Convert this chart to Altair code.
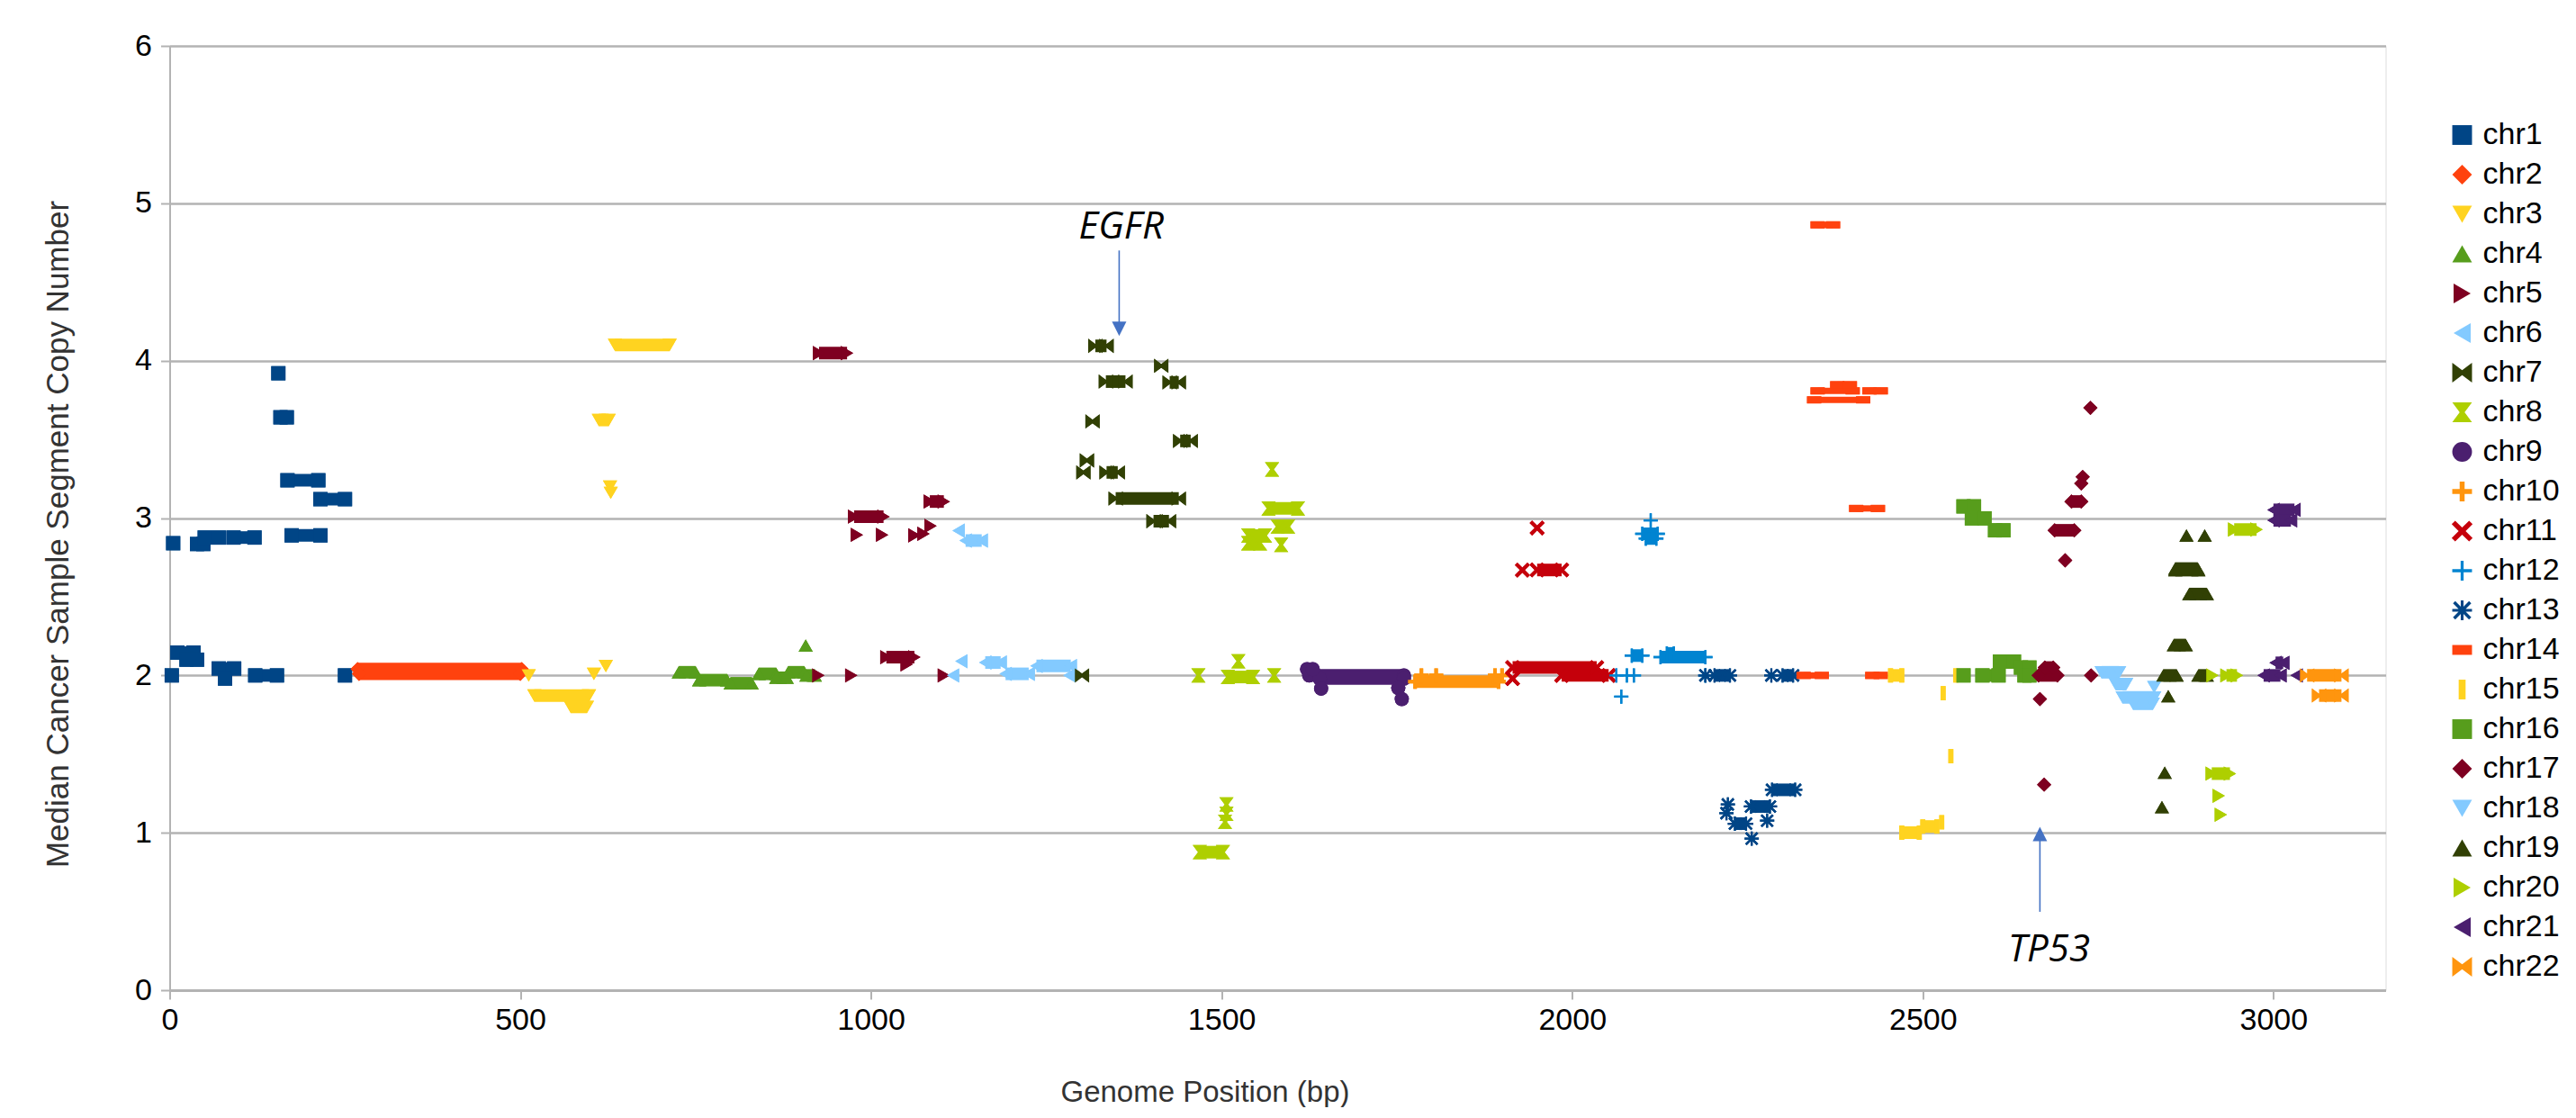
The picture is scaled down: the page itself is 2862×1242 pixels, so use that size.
import math
import altair as alt
import pandas as pd

CHROMS = [f"chr{i}" for i in range(1, 23)]
COLORS = ["#004586", "#ff420e", "#ffd320", "#579d1c", "#7e0021", "#83caff",
          "#314004", "#aecf00", "#4b1f6f", "#ff950e", "#c5000b", "#0084d1",
          "#004586", "#ff420e", "#ffd320", "#579d1c", "#7e0021", "#83caff",
          "#314004", "#aecf00", "#4b1f6f", "#ff950e"]

# segments: (first position, last position, median copy number)
CHR1 = [(5, 5, 2.84), (39, 48, 2.835), (50, 70, 2.876), (91, 121, 2.876), (155, 155, 3.92),
        (158, 167, 3.64), (168, 212, 3.24), (215, 250, 3.12), (174, 215, 2.89),
        (3, 3, 2.0), (11, 34, 2.145), (24, 39, 2.10), (70, 92, 2.044), (79, 79, 1.98),
        (122, 153, 2.0), (250, 250, 2.0)]
CHR2 = [(268, 502, 2.04), (270, 500, 2.01)]
CHR3 = [(512, 512, 2.0), (520, 598, 1.872), (572, 595, 1.80), (605, 605, 2.01), (622, 622, 2.06),
        (635, 713, 4.10), (612, 626, 3.623), (628, 628, 3.20), (629, 629, 3.16)]
CHR4 = [(726, 750, 2.02), (755, 795, 1.97), (800, 830, 1.95), (840, 865, 2.01), (865, 880, 1.985),
        (882, 905, 2.02), (908, 920, 2.0), (907, 907, 2.19)]
CHR5 = [(925, 925, 2.0), (972, 972, 2.0), (1022, 1062, 2.116), (1051, 1051, 2.07), (1104, 1104, 2.0),
        (926, 966, 4.048), (976, 1018, 3.009), (980, 980, 2.893), (1016, 1016, 2.893),
        (1062, 1062, 2.89), (1075, 1075, 2.9), (1085, 1085, 2.95), (1084, 1104, 3.105)]
CHR6 = [(1125, 1125, 2.92), (1135, 1158, 2.857), (1117, 1117, 2.0), (1129, 1129, 2.09),
        (1163, 1185, 2.082), (1192, 1225, 2.01), (1236, 1285, 2.06), (1283, 1283, 2.0)]
CHR7 = [(1301, 1301, 2.0), (1320, 1336, 4.094), (1335, 1363, 3.867), (1414, 1414, 3.967),
        (1426, 1439, 3.862), (1316, 1316, 3.614), (1441, 1456, 3.49), (1308, 1308, 3.366),
        (1303, 1303, 3.29), (1336, 1352, 3.29), (1349, 1439, 3.124), (1403, 1425, 2.98)]
CHR8 = [(1572, 1572, 3.309), (1567, 1609, 3.061), (1580, 1595, 2.946), (1538, 1562, 2.889),
        (1538, 1555, 2.84), (1585, 1585, 2.83), (1467, 1467, 2.0), (1509, 1545, 1.99),
        (1524, 1524, 2.09), (1575, 1575, 2.0), (1507, 1507, 1.18), (1507, 1507, 1.12),
        (1505, 1505, 1.07), (1469, 1502, 0.877)]
CHR9 = [(1625, 1760, 2.0), (1640, 1760, 1.98), (1622, 1630, 2.04), (1642, 1642, 1.916),
        (1752, 1752, 1.92), (1757, 1757, 1.85)]
CHR10 = [(1776, 1895, 1.96), (1785, 1785, 2.0), (1806, 1806, 2.0), (1890, 1890, 2.0), (1900, 1900, 2.0)]
CHR11 = [(1915, 2035, 2.05), (1985, 2052, 2.0), (1915, 1915, 1.98), (1929, 1929, 2.669),
         (1950, 1985, 2.67), (1950, 1950, 2.937)]
CHR12 = [(2063, 2063, 2.0), (2078, 2078, 2.0), (2088, 2088, 2.0), (2070, 2070, 1.865),
         (2085, 2100, 2.126), (2126, 2190, 2.116), (2135, 2145, 2.14), (2190, 2190, 2.0),
         (2112, 2112, 2.985), (2100, 2122, 2.9), (2105, 2120, 2.87)]
CHR13 = [(2190, 2190, 2.0), (2203, 2225, 2.0), (2284, 2284, 2.0), (2300, 2315, 2.0),
         (2285, 2318, 1.273), (2255, 2282, 1.167), (2222, 2222, 1.18), (2220, 2220, 1.125),
         (2232, 2248, 1.058), (2278, 2278, 1.077), (2256, 2256, 0.963)]
CHR14 = [(2330, 2356, 2.0), (2428, 2440, 2.0), (2350, 2372, 4.863), (2345, 2415, 3.751),
         (2350, 2400, 3.808), (2378, 2396, 3.847), (2424, 2440, 3.808), (2405, 2436, 3.061)]
CHR15 = [(2454, 2470, 2.0), (2470, 2495, 1.001), (2500, 2520, 1.04), (2527, 2527, 1.067),
         (2540, 2540, 1.487), (2529, 2529, 1.887), (2547, 2547, 2.0)]
CHR16 = [(2558, 2558, 2.0), (2585, 2608, 2.0), (2610, 2630, 2.088), (2640, 2652, 2.05),
         (2645, 2652, 2.0), (2558, 2573, 3.074), (2570, 2588, 2.998), (2603, 2615, 2.922)]
CHR17 = [(2665, 2692, 2.0), (2674, 2686, 2.05), (2667, 2667, 1.85), (2673, 2673, 1.306),
         (2740, 2740, 2.0), (2703, 2703, 2.731), (2688, 2716, 2.922), (2712, 2726, 3.105),
         (2728, 2728, 3.261), (2726, 2726, 3.22), (2739, 2739, 3.70)]
CHR18 = [(2755, 2780, 2.02), (2775, 2790, 1.945), (2785, 2830, 1.86), (2800, 2828, 1.82),
         (2830, 2830, 1.926)]
CHR19 = [(2843, 2862, 2.0), (2850, 2850, 1.868), (2858, 2875, 2.193), (2860, 2893, 2.669),
         (2880, 2905, 2.517), (2893, 2905, 2.0), (2845, 2845, 1.382), (2841, 2841, 1.163),
         (2876, 2876, 2.889), (2902, 2902, 2.889), (2860, 2892, 2.679)]
CHR20 = [(2913, 2913, 2.0), (2933, 2948, 2.0), (2912, 2938, 1.376), (2922, 2922, 1.235),
         (2925, 2925, 1.115), (2944, 2976, 2.927)]
CHR21 = [(2986, 3010, 2.0), (3003, 3014, 2.08), (3033, 3033, 2.0), (3000, 3030, 3.052),
         (3000, 3025, 2.985)]
CHR22 = [(3048, 3097, 2.0), (3065, 3097, 1.872)]

SEGMENTS = [CHR1, CHR2, CHR3, CHR4, CHR5, CHR6, CHR7, CHR8, CHR9, CHR10, CHR11,
            CHR12, CHR13, CHR14, CHR15, CHR16, CHR17, CHR18, CHR19, CHR20, CHR21, CHR22]

# annotations
GENE_LABELS = ["EGFR", "TP53"]
GENE_LABEL_X = [1357, 2680]
GENE_LABEL_Y = [4.777, 0.183]
ARROW_X = [1354, 2667]
ARROW_FROM = [4.70, 0.498]
ARROW_TO = [4.21, 0.985]
ARROW_HEAD_Y = [4.202, 0.993]


def poly(points):
    return "M" + "L".join(f"{x:.3f},{y:.3f}" for x, y in points) + "Z"


def plus_pts(t):
    return [(-1, -t), (-t, -t), (-t, -1), (t, -1), (t, -t), (1, -t),
            (1, t), (t, t), (t, 1), (-t, 1), (-t, t), (-1, t)]


def rot45(pts, k=1.0):
    c = math.sqrt(0.5)
    return [((x - y) * c * k, (x + y) * c * k) for x, y in pts]


BOWTIE = "M-1,-1L0,-0.25L1,-1L1,1L0,0.25L-1,1Z"
HOURGLASS = "M-1,-1L1,-1L0.25,0L1,1L-1,1L-0.25,0Z"
PLUS_THICK = poly(plus_pts(0.25))
PLUS_THIN = poly(plus_pts(0.15))
XMARK = poly(rot45(plus_pts(0.2), 1.25))
ASTERISK = poly(plus_pts(0.14)) + poly(rot45(plus_pts(0.14), 1.15))
DASH = "M-1,-0.5L1,-0.5L1,0.5L-1,0.5Z"
VBAR = "M-0.35,-1L0.35,-1L0.35,1L-0.35,1Z"

SHAPES = ["square", "diamond", "triangle-down", "triangle-up", "triangle-right", "triangle-left",
          BOWTIE, HOURGLASS, "circle", PLUS_THICK, XMARK, PLUS_THIN, ASTERISK, DASH, VBAR,
          "square", "diamond", "triangle-down", "triangle-up", "triangle-right", "triangle-left",
          BOWTIE]

seg_rows, pt_rows = [], []
for chrom, segs in zip(CHROMS, SEGMENTS):
    for (a, b, v) in segs:
        if b > a:
            seg_rows.append({"chrom": chrom, "x": a, "x2": b, "y": v})
            pt_rows.append({"chrom": chrom, "x": a, "y": v})
            pt_rows.append({"chrom": chrom, "x": b, "y": v})
        else:
            pt_rows.append({"chrom": chrom, "x": a, "y": v})
seg_df = pd.DataFrame(seg_rows)
pt_df = pd.DataFrame(pt_rows)

lab_df = pd.DataFrame({"label": GENE_LABELS, "x": GENE_LABEL_X, "y": GENE_LABEL_Y})
arr_df = pd.DataFrame({"x": ARROW_X, "y": ARROW_FROM, "y2": ARROW_TO, "hy": ARROW_HEAD_Y,
                       "gene": GENE_LABELS})

FONT = "Liberation Sans"
xscale = alt.Scale(domain=[0, 3160], nice=False, zero=False)
yscale = alt.Scale(domain=[0, 6], nice=False)
cscale = alt.Scale(domain=CHROMS, range=COLORS)
sscale = alt.Scale(domain=CHROMS, range=SHAPES)

xaxis = alt.Axis(values=[0, 500, 1000, 1500, 2000, 2500, 3000], grid=False, format="d",
                 labelFontSize=34, labelFont=FONT, labelColor="#000000", labelPadding=6,
                 labelFlush=False,
                 tickSize=10, tickColor="#b3b3b3", tickWidth=2,
                 domainColor="#b3b3b3", domainWidth=3,
                 title="Genome Position (bp)", titleFont=FONT, titleFontSize=33,
                 titleFontWeight="normal", titleColor="#333333",
                 titleX=1150, titleY=113, titleAlign="center", titleBaseline="middle")
yaxis = alt.Axis(values=[0, 1, 2, 3, 4, 5, 6], grid=True, gridColor="#b3b3b3", gridWidth=2.5,
                 labelFontSize=34, labelFont=FONT, labelColor="#000000", labelPadding=10,
                 labelFlush=False,
                 tickSize=10, tickColor="#b3b3b3", tickWidth=2,
                 domainColor="#b3b3b3", domainWidth=2,
                 title="Median Cancer Sample Segment Copy Number", titleFont=FONT,
                 titleFontSize=35, titleFontWeight="normal", titleColor="#333333",
                 titleX=-124, titleY=542, titleAlign="center", titleBaseline="middle")

legend = alt.Legend(title=None, orient="none", legendX=2530, legendY=82,
                    labelFontSize=34, labelFont=FONT, labelColor="#000000",
                    symbolSize=480, symbolStrokeWidth=0, rowPadding=10, labelOffset=6)

X = alt.X("x:Q", scale=xscale, axis=xaxis)
Y = alt.Y("y:Q", scale=yscale, axis=yaxis)
C = alt.Color("chrom:N", scale=cscale, legend=legend)
S = alt.Shape("chrom:N", scale=sscale, legend=legend)

points = alt.Chart(pt_df).mark_point(filled=True, size=250, opacity=1, strokeWidth=0).encode(
    x=X, y=Y, color=C, shape=S)
rules = alt.Chart(seg_df).transform_filter(alt.datum.chrom != "chr14").mark_rule(
    strokeWidth=14, strokeCap="butt").encode(x=X, x2="x2:Q", y=Y, color=C)
rules14 = alt.Chart(seg_df).transform_filter(alt.datum.chrom == "chr14").mark_rule(
    strokeWidth=7, strokeCap="butt").encode(x=X, x2="x2:Q", y=Y, color=C)

arrow_lines = alt.Chart(arr_df).mark_rule(color="#4472c4", strokeWidth=1.6).encode(
    x=X, y=Y, y2="y2:Q")
head_down = alt.Chart(arr_df).transform_filter(alt.datum.gene == "EGFR").mark_point(
    shape="M-1,-1L1,-1L0,1Z", filled=True, size=256, color="#4472c4", opacity=1, strokeWidth=0
).encode(x=X, y=alt.Y("hy:Q", scale=yscale, axis=yaxis))
head_up = alt.Chart(arr_df).transform_filter(alt.datum.gene == "TP53").mark_point(
    shape="M-1,1L1,1L0,-1Z", filled=True, size=256, color="#4472c4", opacity=1, strokeWidth=0
).encode(x=X, y=alt.Y("hy:Q", scale=yscale, axis=yaxis))
labels = alt.Chart(lab_df).mark_text(font="Open Sans", fontStyle="italic", fontSize=42,
                                     align="center", baseline="alphabetic", color="#000000").encode(
    x=X, y=Y, text="label:N")

chart = alt.layer(points, rules, rules14, points, arrow_lines, head_down, head_up, labels).properties(
    width=2462, height=1049,
    autosize=alt.AutoSizeParams(type="none"),
    padding={"left": 180.5, "top": 43, "right": 200, "bottom": 130},
).configure_view(stroke="#b3b3b3", strokeWidth=2).configure(background="white")

chart.save("out.html", embed_options={"renderer": "svg", "actions": False})
